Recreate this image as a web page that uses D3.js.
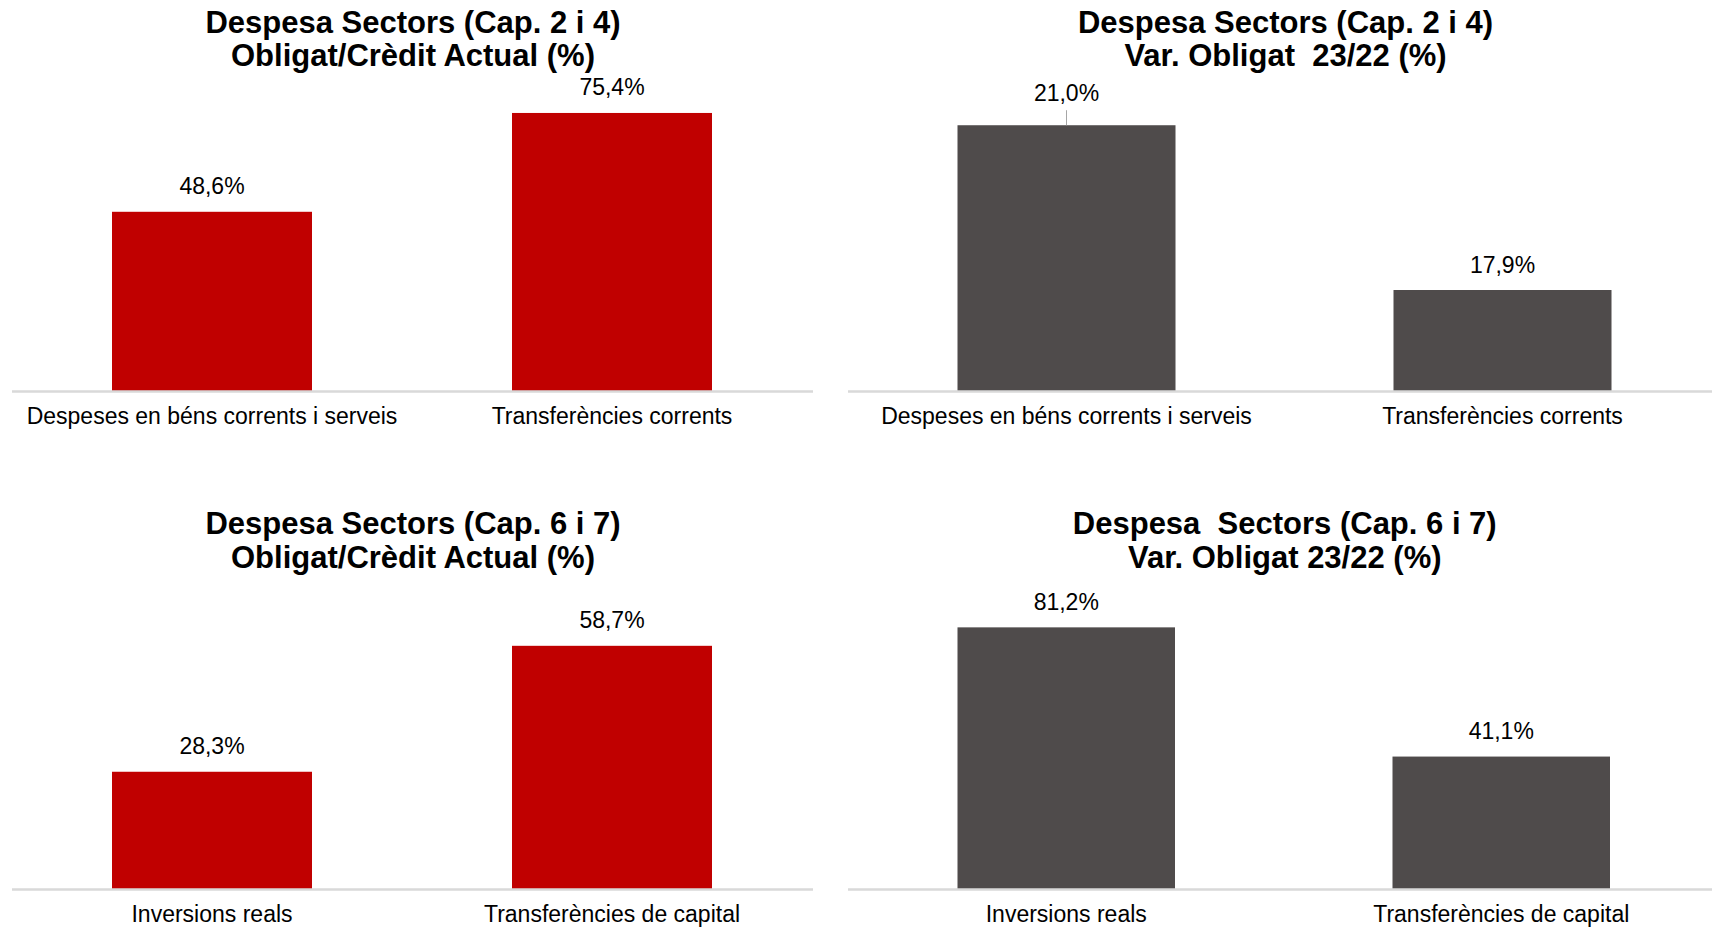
<!DOCTYPE html>
<html>
<head>
<meta charset="utf-8">
<script src="https://cdn.jsdelivr.net/npm/d3@7"></script>
<style>
  html, body { margin: 0; padding: 0; background: #ffffff; }
  svg { display: block; }
  text { font-family: "Liberation Sans", Arial, sans-serif; }
</style>
</head>
<body>
<svg id="chart" width="1712" height="928"></svg>
<script>
// ---------- DATA ----------
const categoriesCap24 = ["Despeses en béns corrents i serveis", "Transferències corrents"];
const categoriesCap67 = ["Inversions reals", "Transferències de capital"];

const obligatCreditCap24 = [48.6, 75.4];
const varObligatCap24   = [21.0, 17.9];
const obligatCreditCap67 = [28.3, 58.7];
const varObligatCap67   = [81.2, 41.1];

const titleTL = ["Despesa Sectors (Cap. 2 i 4)", "Obligat/Crèdit Actual (%)"];
const titleTR = ["Despesa Sectors (Cap. 2 i 4)", "Var. Obligat  23/22 (%)"];
const titleBL = ["Despesa Sectors (Cap. 6 i 7)", "Obligat/Crèdit Actual (%)"];
const titleBR = ["Despesa  Sectors (Cap. 6 i 7)", "Var. Obligat 23/22 (%)"];

// value-axis limits (as in the source chart's axes)
const axisTL = [0, 80];
const axisTR = [16, 21.55];
const axisBL = [0, 70];
const axisBR = [0, 90];

// ---------- STYLE / LAYOUT ----------
const RED = "#C00000";
const DARK = "#4F4B4B";
const AXIS_COLOR = "#D9D9D9";

const locale = d3.formatLocale({decimal: ",", thousands: ".", grouping: [3], currency: ["", "€"]});
const fmt = v => locale.format(".1f")(v) + "%";

const panels = [
  {cats: categoriesCap24, vals: obligatCreditCap24, title: titleTL, dom: axisTL, color: RED,
   x: [12, 812], axisX: [12, 813], y: [391, 96], titleY: [33, 66], catY: 424, leader: [false, false]},
  {cats: categoriesCap24, vals: varObligatCap24, title: titleTR, dom: axisTR, color: DARK,
   x: [848.5, 1720.5], axisX: [848, 1712], y: [391, 96], titleY: [33, 66], catY: 424, leader: [true, false]},
  {cats: categoriesCap67, vals: obligatCreditCap67, title: titleBL, dom: axisBL, color: RED,
   x: [12, 812], axisX: [12, 813], y: [889, 599], titleY: [534, 568], catY: 922, leader: [false, false]},
  {cats: categoriesCap67, vals: varObligatCap67, title: titleBR, dom: axisBR, color: DARK,
   x: [848.75, 1718.75], axisX: [848, 1712], y: [889, 599], titleY: [534, 568], catY: 922, leader: [false, false]}
];

const svg = d3.select("#chart");

panels.forEach(p => {
  const g = svg.append("g");
  const x = d3.scaleBand().domain(p.cats).range(p.x).paddingInner(0.5).paddingOuter(0.25);
  const y = d3.scaleLinear().domain(p.dom).range(p.y);
  const data = p.cats.map((c, i) => ({cat: c, val: p.vals[i], leader: p.leader[i]}));

  // title
  const cx = (p.x[0] + p.x[1]) / 2 + 1;
  g.selectAll("text.title").data(p.title).join("text")
    .attr("class", "title")
    .attr("x", cx)
    .attr("y", (d, i) => p.titleY[i])
    .attr("text-anchor", "middle")
    .style("white-space", "pre")
    .attr("xml:space", "preserve")
    .style("font-size", "31px")
    .style("font-weight", "bold")
    .attr("fill", "#000")
    .text(d => d);

  // bars
  g.selectAll("rect.bar").data(data).join("rect")
    .attr("class", "bar")
    .attr("x", d => x(d.cat))
    .attr("width", x.bandwidth())
    .attr("y", d => y(d.val))
    .attr("height", d => y(p.dom[0]) - y(d.val))
    .attr("fill", p.color);

  // category axis
  const axis = d3.axisBottom(x).tickSize(0).tickPadding(0);
  const ax = g.append("g").attr("transform", `translate(0,${y(p.dom[0])})`).call(axis);
  ax.select(".domain").remove();
  ax.append("line")
    .attr("x1", p.axisX[0]).attr("x2", p.axisX[1])
    .attr("y1", 0.5).attr("y2", 0.5)
    .attr("stroke", AXIS_COLOR).attr("stroke-width", 2.5);
  ax.selectAll(".tick text")
    .attr("y", p.catY - y(p.dom[0]))
    .attr("dy", 0)
    .style("font-size", "23px")
    .style("font-family", "'Liberation Sans', Arial, sans-serif")
    .attr("fill", "#000");

  // value labels
  const lift = 7;
  g.selectAll("text.val").data(data).join("text")
    .attr("class", "val")
    .attr("x", d => x(d.cat) + x.bandwidth() / 2)
    .attr("y", d => y(d.val) - 17.5 - (d.leader ? lift : 0))
    .attr("text-anchor", "middle")
    .style("font-size", "23px")
    .attr("fill", "#000")
    .text(d => fmt(d.val));

  // leader line
  g.selectAll("line.leader").data(data.filter(d => d.leader)).join("line")
    .attr("class", "leader")
    .attr("x1", d => x(d.cat) + x.bandwidth() / 2)
    .attr("x2", d => x(d.cat) + x.bandwidth() / 2)
    .attr("y1", d => y(d.val) - 15)
    .attr("y2", d => y(d.val))
    .attr("stroke", "#A6A6A6").attr("stroke-width", 1);
});
</script>
</body>
</html>
